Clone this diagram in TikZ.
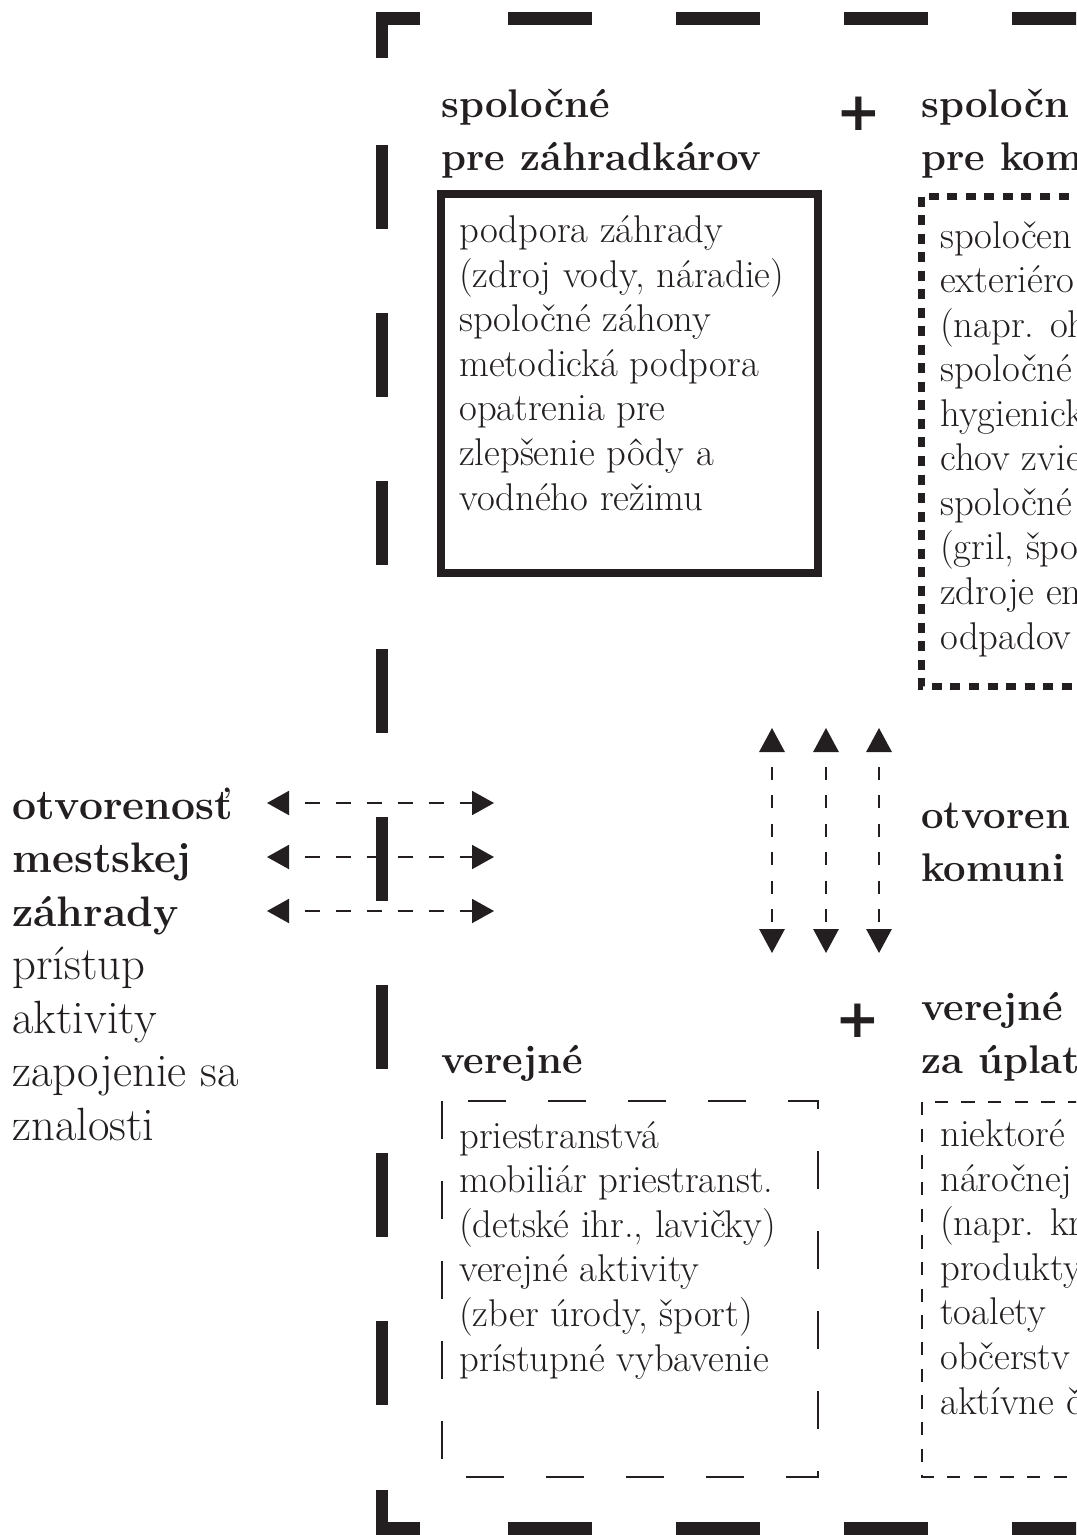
\documentclass[tikz,border=0pt]{standalone}
\usepackage{fontspec}
\newfontfamily\plusfont{DejaVu Sans}
\usetikzlibrary{arrows.meta}
\definecolor{ink}{RGB}{35,31,32}
\tikzset{
  head/.style={anchor=base west, inner sep=0pt, align=left, text=ink, font=\fontsize{30}{39.75}\selectfont\bfseries},
  item/.style={anchor=base west, inner sep=0pt, align=left, text=ink, font=\fontsize{29}{33.4}\selectfont},
  side/.style={anchor=base west, inner sep=0pt, align=left, text=ink, font=\fontsize{35}{40.1}\selectfont},
  plus/.style={inner sep=0pt, text=ink, font=\plusfont\fontsize{40}{40}\selectfont\bfseries},
  fence/.style={draw=ink, line width=9.5pt, dash pattern=on 63pt off 63pt},
  fencecorner/.style={draw=ink, line width=9.5pt},
  solidbox/.style={draw=ink, line width=6pt},
  dotbox/.style={draw=ink, line width=5.25pt, dash pattern=on 7.5pt off 6.4pt},
  longbox/.style={draw=ink, line width=1.9pt, dash pattern=on 28.5pt off 31.5pt},
  shortbox/.style={draw=ink, line width=1.5pt, dash pattern=on 10pt off 10pt},
  flow/.style={draw=ink, line width=1.5pt, dash pattern=on 11.25pt off 12pt, dash phase=11.25pt,
    {Triangle[length=16.5pt,width=18pt]}-{Triangle[length=16.5pt,width=18pt]}},
  vflow/.style={draw=ink, line width=1.5pt, dash pattern=on 9.75pt off 11.6pt, dash phase=9.75pt,
    {Triangle[length=18pt,width=19pt]}-{Triangle[length=18pt,width=19pt]}}
}
\newcommand{\bfline}[1]{{\fontsize{32}{40.1}\selectfont\bfseries #1}}
\begin{document}
\begin{tikzpicture}[x=0.75pt, y=-0.75pt]
\useasboundingbox (0,0) rectangle (1076,1535);
\clip (0,0) rectangle (1076,1535);

\draw[fencecorner] (382,58) -- (382,18.5) -- (420,18.5);
\draw[fencecorner] (382,1490) -- (382,1528.5) -- (420,1528.5);
\draw[fence] (508,18.5) -- (1200,18.5);
\draw[fence] (508,1528.5) -- (1200,1528.5);
\draw[fence] (382,145) -- (382,1420);

\node[head] (zahradkari) at (441,170) {spoločné\\pre záhradkárov};
\node[plus] (plushore) at (859,114) {+};
\node[head] (komunita) at (921,170) {spoločn\\pre kom};

\draw[solidbox] (441,194) rectangle (818,573);
\node[item] (podpora) at (459,510) {podpora záhrady\\(zdroj vody, náradie)\\spoločné záhony\\metodická podpora\\opatrenia pre\\zlepšenie pôdy a\\vodného režimu};

\draw[dotbox] (921.5,196.5) rectangle (1200,686.5);
\node[item] (spolocne) at (940,649) {spoločen\\exteriéro\\(napr. oh\\spoločné\\hygienick\\chov zvie\\spoločné\\(gril, špo\\zdroje en\\odpadov};

\node[side] (mesto) at (12,1140) {\bfline{otvorenosť}\\\bfline{mestskej}\\\bfline{záhrady}\\prístup\\aktivity\\zapojenie sa\\znalosti};

\foreach \i/\y in {1/803,2/857,3/911} {
  \coordinate (west\i) at (267,\y);
  \coordinate (east\i) at (494,\y);
  \draw[flow] (west\i) -- (east\i);
}
\foreach \i/\x in {1/772,2/826,3/879} {
  \coordinate (up\i) at (\x,728);
  \coordinate (down\i) at (\x,953);
  \draw[vflow] (up\i) -- (down\i);
}

\node[head] (otvorenost) at (921,881) {otvoren\\komuni};

\node[plus] (plusdole) at (858,1021) {+};
\node[head] (uplata) at (921,1073) {verejné\\za úplat};
\node[head] (verejne) at (441,1073) {verejné};

\draw[longbox] (442,1101) rectangle (818,1477);
\node[item] (priestory) at (459,1371) {priestranstvá\\mobiliár priestranst.\\(detské ihr., lavičky)\\verejné aktivity\\(zber úrody, šport)\\prístupné vybavenie};

\draw[shortbox] (922,1102) rectangle (1200,1477);
\node[item] (platene) at (940,1414) {niektoré\\náročnej\\(napr. kr\\produkty\\toalety\\občerstv\\aktívne č};

\end{tikzpicture}
\end{document}
